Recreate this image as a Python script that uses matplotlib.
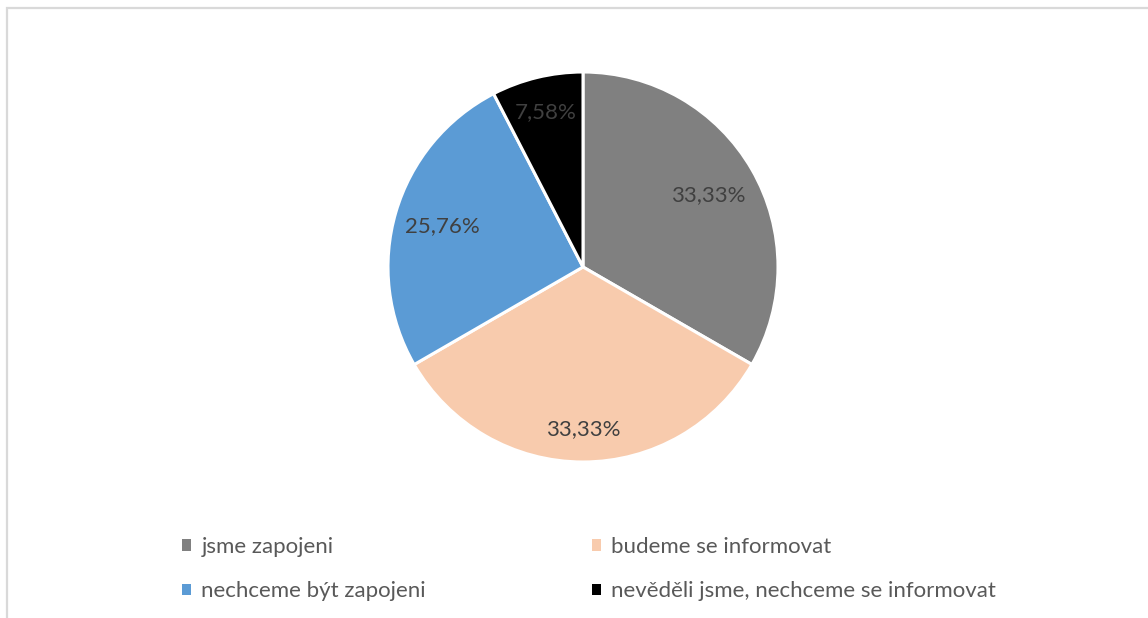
import matplotlib.pyplot as plt
from matplotlib.patches import Rectangle
import numpy as np

# answer categories and their shares (%)
categories = [
    "jsme zapojeni",
    "budeme se informovat",
    "nechceme být zapojeni",
    "nevěděli jsme, nechceme se informovat",
]
shares = [33.33, 33.33, 25.76, 7.58]
colors = ["#808080", "#F8CBAD", "#5B9BD5", "#000000"]
label_dist = [0.74, 0.83, 0.75, 0.82]

plt.rcParams["font.family"] = ["Lato", "DejaVu Sans"]

W, H = 1148, 618
fig = plt.figure(figsize=(W / 100, H / 100), dpi=100)
fig.patch.set_facecolor("white")

# light chart frame, open on the right and bottom
fig.add_artist(Rectangle((7 / W, -0.1), 1.2, (H - 8) / H + 0.1,
                         transform=fig.transFigure, fill=False,
                         edgecolor="#D9D9D9", linewidth=1.6))

cx, cy, r = 583, 267, 195
ax = fig.add_axes([(cx - r) / W, (H - cy - r) / H, 2 * r / W, 2 * r / H])
wedges, _ = ax.pie(shares, colors=colors, startangle=90, counterclock=False,
                   radius=1, wedgeprops=dict(edgecolor="white", linewidth=2.2))
ax.set_xlim(-1, 1)
ax.set_ylim(-1, 1)
ax.set_aspect("equal")
ax.axis("off")

for w, val, d in zip(wedges, shares, label_dist):
    mid = np.deg2rad((w.theta1 + w.theta2) / 2)
    txt = f"{val:.2f}".replace(".", ",") + "%"
    ax.text(d * np.cos(mid), d * np.sin(mid), txt, ha="center", va="center",
            fontsize=16, color="#404040")

# row-major order: two entries per row
order = [0, 2, 1, 3]
leg = fig.legend([wedges[i] for i in order], [categories[i] for i in order],
                 ncol=2, loc="center left", bbox_to_anchor=(162 / W, 1 - 569 / H),
                 frameon=False, fontsize=16, handlelength=0.42, handleheight=0.42,
                 handletextpad=0.45, columnspacing=7.45, labelspacing=1.1)
for t in leg.get_texts():
    t.set_color("#595959")
for h in leg.legend_handles:
    h.set_linewidth(0)

fig.savefig("out.png", dpi=100)
